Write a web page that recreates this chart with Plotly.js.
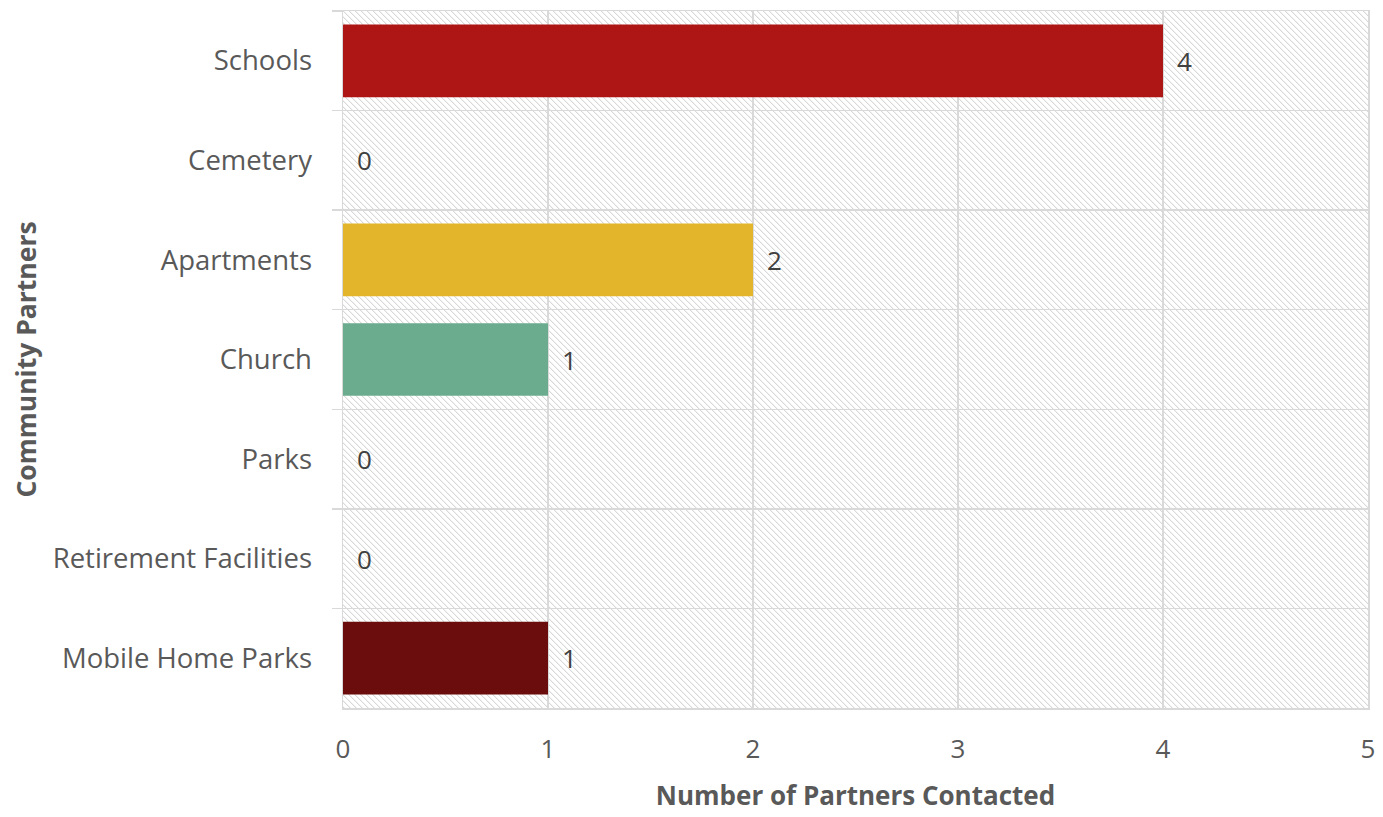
<!DOCTYPE html>
<html>
<head>
<meta charset="utf-8">
<script src="https://cdn.plot.ly/plotly-3.0.1.min.js"></script>
<style>
  html, body { margin: 0; padding: 0; background: #ffffff; }
  #wrap { position: relative; width: 1383px; height: 817px; }
  #hatch { position: absolute; background-color: #ffffff; image-rendering: pixelated; }
  #chart { position: absolute; left: 0; top: 0; width: 1383px; height: 817px; }
</style>
</head>
<body>
<div id="wrap">
  <div id="hatch"></div>
  <div id="chart"></div>
</div>
<script>
const categories = ["Schools", "Cemetery", "Apartments", "Church", "Parks", "Retirement Facilities", "Mobile Home Parks"];
const partnersContacted = [4, 0, 2, 1, 0, 0, 1];
const barColors = ["#AE1515", "#AE1515", "#E3B52A", "#6BAC8F", "#AE1515", "#AE1515", "#6A0D0C"];
const xTickValues = [0, 1, 2, 3, 4, 5];
const xTickLabels = ["0", "1", "2", "3", "4", "5"];

const M = { l: 343, r: 15, t: 11, b: 109 };
const W = 1383, H = 817;

// hatched plot-area background (diagonal dotted lines)
(function () {
  const P = 6;
  const c = document.createElement('canvas');
  c.width = P; c.height = P;
  const ctx = c.getContext('2d');
  ctx.fillStyle = '#ffffff';
  ctx.fillRect(0, 0, P, P);
  for (let y = 0; y < P; y++) {
    for (let x = 0; x < P; x++) {
      const d = ((x - y) % P + P) % P;
      if (d === 0) { ctx.fillStyle = '#d8d8d8'; ctx.fillRect(x, y, 1, 1); }
      else if (d === 1) { ctx.fillStyle = '#f2f2f2'; ctx.fillRect(x, y, 1, 1); }
    }
  }
  const hatch = document.getElementById('hatch');
  hatch.style.left = M.l + 'px';
  hatch.style.top = M.t + 'px';
  hatch.style.width = (W - M.l - M.r) + 'px';
  hatch.style.height = (H - M.t - M.b) + 'px';
  hatch.style.backgroundImage = 'url(' + c.toDataURL() + ')';
  hatch.style.backgroundRepeat = 'repeat';
})();

const font = '"Open Sans", "Noto Sans", sans-serif';
const gridColor = '#d9d9d9';

const trace = {
  type: 'bar',
  orientation: 'h',
  y: categories,
  x: partnersContacted,
  marker: { color: barColors, line: { width: 0 } },
  hoverinfo: 'none',
  cliponaxis: false
};

const annotations = categories.map((c, i) => ({
  x: partnersContacted[i],
  y: c,
  xref: 'x', yref: 'y',
  text: String(partnersContacted[i]),
  showarrow: false,
  xanchor: 'left',
  yanchor: 'middle',
  xshift: 12,
  font: { family: font, size: 26, color: '#404040' }
}));

const layout = {
  width: W, height: H,
  margin: M,
  paper_bgcolor: 'rgba(0,0,0,0)',
  plot_bgcolor: 'rgba(0,0,0,0)',
  showlegend: false,
  bargap: 0.27,
  font: { family: font, color: '#595959' },
  xaxis: {
    range: [0, 5],
    tickvals: xTickValues,
    ticktext: xTickLabels,
    showgrid: true,
    gridcolor: gridColor,
    gridwidth: 1.5,
    zeroline: false,
    showline: true,
    mirror: true,
    linecolor: gridColor,
    linewidth: 1.5,
    ticks: '',
    tickfont: { family: font, size: 26, color: '#595959' },
    ticklabelstandoff: 17,
    title: { text: 'Number of Partners Contacted', font: { family: font, size: 26, color: '#595959', weight: 'bold' }, standoff: 22 },
    fixedrange: true
  },
  yaxis: {
    type: 'category',
    categoryorder: 'array',
    categoryarray: categories,
    autorange: 'reversed',
    tickson: 'boundaries',
    ticks: 'outside',
    ticklen: 10,
    tickcolor: gridColor,
    tickwidth: 1.5,
    showgrid: true,
    gridcolor: gridColor,
    gridwidth: 1.5,
    showline: true,
    mirror: true,
    linecolor: gridColor,
    linewidth: 1.5,
    zeroline: false,
    tickfont: { family: font, size: 27.5, color: '#595959' },
    ticklabelstandoff: 24,
    title: { text: 'Community Partners', font: { family: font, size: 26.5, color: '#595959', weight: 'bold' }, standoff: 8 },
    fixedrange: true
  },
  annotations: annotations
};

Plotly.newPlot('chart', [trace], layout, { displayModeBar: false, staticPlot: true });
</script>
</body>
</html>
